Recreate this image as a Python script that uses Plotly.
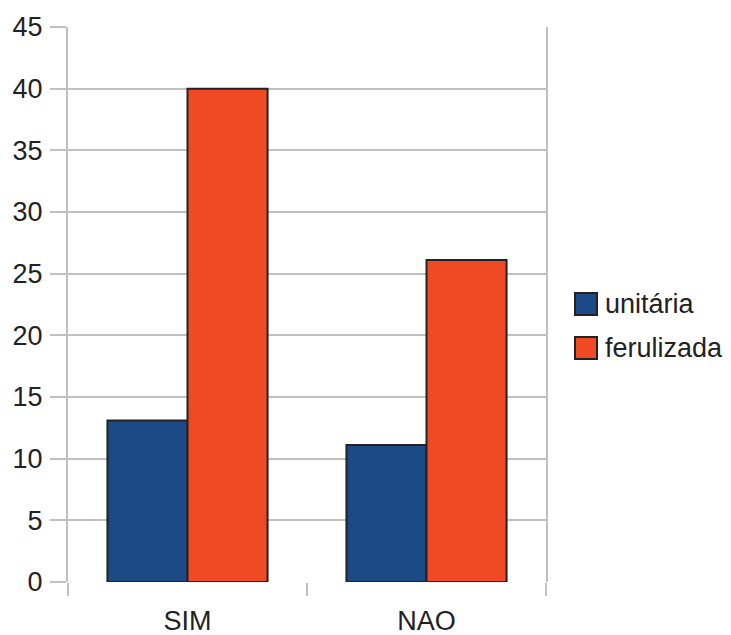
import plotly.graph_objects as go

categories = ["SIM", "NAO"]
series_names = ["unitária", "ferulizada"]
unitaria = [13.1, 11.1]
ferulizada = [40, 26.1]
y_ticks = [0, 5, 10, 15, 20, 25, 30, 35, 40, 45]

GRID = "#c0c0c0"
EDGE = "#222222"
COLORS = ["#1b4a86", "#ef4a23"]
FONT = dict(family="Liberation Sans, Arial, sans-serif", size=27, color="#222222")

# The page body has an 8px margin; size the figure so it fits the 731x635 window.
OFF = 8
W, H = 731 - OFF, 635 - OFF
L, T = 68 - OFF, 27 - OFF
R = W - (546 - OFF)
B = H - (582 - OFF)
PW, PH = W - L - R, H - T - B


def scr_to_paper(x, y):
    return (x - OFF - L) / PW, (H - B - (y - OFF)) / PH


fig = go.Figure()
for name, vals, col in zip(series_names, [unitaria, ferulizada], COLORS):
    fig.add_trace(go.Bar(name=name, x=categories, y=vals, showlegend=False,
                         marker=dict(color=col, line=dict(color=EDGE, width=2))))

# Legend drawn manually (large outlined squares like the reference)
shapes, annotations = [], []
for i, (name, col) in enumerate(zip(series_names, COLORS)):
    top = 293 + i * 44
    x0, y0 = scr_to_paper(575, top + 22)
    x1, y1 = scr_to_paper(597, top)
    shapes.append(dict(type="rect", xref="paper", yref="paper", x0=x0, x1=x1, y0=y0, y1=y1,
                       fillcolor=col, line=dict(color=EDGE, width=2)))
    tx, ty = scr_to_paper(603, top + 11)
    annotations.append(dict(xref="paper", yref="paper", x=tx, y=ty, text=name,
                            showarrow=False, xanchor="left", yanchor="middle", font=FONT))

fig.update_layout(
    width=W, height=H,
    margin=dict(l=L, r=R, t=T, b=B, autoexpand=False),
    paper_bgcolor="white", plot_bgcolor="white",
    font=FONT,
    barmode="group", bargap=0.33, bargroupgap=0,
    showlegend=False,
    shapes=shapes, annotations=annotations,
    xaxis=dict(showgrid=False, showline=False, zeroline=False, automargin=False,
               ticks="outside", tickson="boundaries", ticklen=13, tickwidth=2,
               tickcolor=GRID, ticklabelstandoff=20),
    yaxis=dict(range=[0, 45], tickvals=y_ticks, showgrid=True, gridcolor=GRID, gridwidth=2,
               showline=True, linecolor=GRID, linewidth=2, mirror=True, automargin=False,
               zeroline=False, ticks="outside", ticklen=16, tickwidth=2, tickcolor=GRID,
               ticklabelstandoff=2),
)

fig.write_html("out.html")
